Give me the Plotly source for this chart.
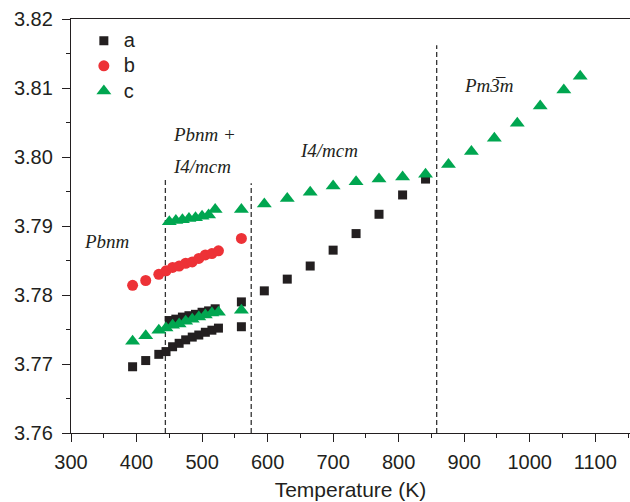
import plotly.graph_objects as go

# ---- data ----
T_a = [394, 414, 434, 445, 455, 465, 475, 485, 495, 505, 515, 525,
       450, 460, 470, 480, 490, 500, 510, 520,
       560, 560, 595, 630, 665, 700, 735, 770, 806, 841]
a_vals = [3.7696, 3.7705, 3.7714, 3.7718, 3.7725, 3.7730, 3.7735, 3.7739, 3.7742, 3.7746, 3.7749, 3.7752,
          3.7763, 3.7765, 3.7768, 3.7770, 3.7772, 3.7775, 3.7777, 3.7780,
          3.7790, 3.7754, 3.7806, 3.7823, 3.7842, 3.7865, 3.7889, 3.7917, 3.7945, 3.7968]

T_b = [394, 414, 434, 445, 455, 465, 475, 485, 495, 505, 515, 525, 560]
b_vals = [3.7814, 3.7821, 3.7830, 3.7835, 3.7840, 3.7842, 3.7846, 3.7848, 3.7853, 3.7858, 3.7860, 3.7864, 3.7882]

T_c = [394, 414, 434, 445, 455, 465, 475, 485, 495, 505, 515, 525,
       450, 460, 470, 480, 490, 500, 510, 520,
       560, 560, 595, 630, 665, 700, 735, 770, 806, 841,
       876, 911, 946, 981, 1016, 1052, 1077]
c_vals = [3.7733, 3.7741, 3.7749, 3.7752, 3.7756, 3.7758, 3.7762, 3.7765, 3.7768, 3.7771, 3.7774, 3.7775,
          3.7906, 3.7908, 3.7909, 3.7911, 3.7912, 3.7914, 3.7916, 3.7924,
          3.7924, 3.7778, 3.7932, 3.7940, 3.7949, 3.7958, 3.7964, 3.7968, 3.7971, 3.7975,
          3.7989, 3.8008, 3.8027, 3.8049, 3.8074, 3.8097, 3.8117]

transition_T = [444, 575, 858]
transition_top = [3.7967, 3.7962, 3.8162]

phase_labels = ["<i>Pbnm</i>", "<i>Pbnm +</i>", "<i>I4/mcm</i>", "<i>I4/mcm</i>", "<i>Pm3\u0305m</i>"]
phase_x = [317, 452, 452, 646, 897]
phase_y = [3.7877, 3.8032, 3.7986, 3.8009, 3.8103]

x_ticks = [300, 400, 500, 600, 700, 800, 900, 1000, 1100]
y_ticks = [3.76, 3.77, 3.78, 3.79, 3.80, 3.81, 3.82]
series_names = ["a", "b", "c"]

# ---- figure ----
INK = "#231f20"
fig = go.Figure()

for T, top in zip(transition_T, transition_top):
    fig.add_trace(go.Scatter(x=[T, T], y=[3.76, top], mode="lines",
                             line=dict(color="#333333", width=1.3, dash="5px,3px"),
                             showlegend=False, hoverinfo="skip"))

def lbl(s):
    return f'<span style="font-size:20px">{s}</span>'

fig.add_trace(go.Scatter(x=T_a, y=a_vals, mode="markers", name=lbl(series_names[0]),
                         marker=dict(symbol="square", size=9, color=INK)))
fig.add_trace(go.Scatter(x=T_b, y=b_vals, mode="markers", name=lbl(series_names[1]),
                         marker=dict(symbol="circle", size=11, color="#ed3237")))
fig.add_trace(go.Scatter(x=T_c, y=c_vals, mode="markers", name=lbl(series_names[2]),
                         marker=dict(symbol="triangle-up", size=13, color="#00a650")))

for txt, x, y in zip(phase_labels, phase_x, phase_y):
    fig.add_annotation(x=x, y=y, text=txt, showarrow=False, xanchor="left", yanchor="middle",
                       font=dict(family="Liberation Serif", size=19, color=INK))

fig.update_layout(
    width=630, height=502,
    margin=dict(l=71, r=0, t=19, b=69),
    paper_bgcolor="white", plot_bgcolor="white",
    font=dict(family="Liberation Sans", size=20, color=INK),
    showlegend=True,
    legend=dict(x=0.023, y=0.99, xanchor="left", yanchor="top",
                font=dict(size=17, color=INK), bgcolor="rgba(0,0,0,0)",
                itemsizing="trace", tracegroupgap=0),
)
fig.update_xaxes(range=[300, 1153], tickvals=x_ticks, ticktext=[str(v) for v in x_ticks],
                 showgrid=False, zeroline=False, showline=True, linecolor=INK, linewidth=1.3,
                 mirror=True, ticks="outside", ticklen=8, tickwidth=1.2, tickcolor=INK,
                 ticklabelstandoff=3, tickfont=dict(size=20),
                 minor=dict(dtick=50, tick0=300, ticks="outside", ticklen=4, tickwidth=1.2, tickcolor=INK),
                 title=dict(text="Temperature (K)", standoff=10, font=dict(size=21)))
fig.update_yaxes(range=[3.76, 3.82], tickvals=y_ticks, ticktext=[f"{v:.2f}" for v in y_ticks],
                 showgrid=False, zeroline=False, showline=True, linecolor=INK, linewidth=1.3,
                 ticks="outside", ticklen=8, tickwidth=1.2, tickcolor=INK,
                 ticklabelstandoff=5, tickfont=dict(size=20),
                 minor=dict(dtick=0.005, tick0=3.76, ticks="outside", ticklen=4, tickwidth=1.2, tickcolor=INK))

fig.write_html("out.html")
